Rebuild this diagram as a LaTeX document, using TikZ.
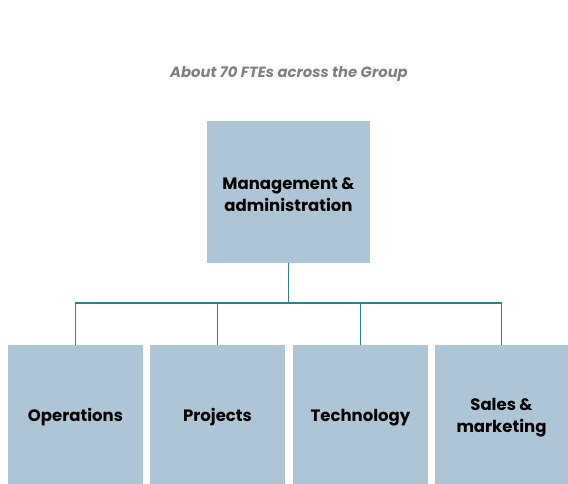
\documentclass[tikz,border=0pt]{standalone}
\usepackage{fontspec}
\setmainfont{Poppins}
\definecolor{boxblue}{HTML}{ADC5D4}
\definecolor{teal}{HTML}{2F8088}
\definecolor{capgray}{HTML}{7F7F7F}

\begin{document}
\begin{tikzpicture}[x=1pt,y=-1pt,
  unit/.style={fill=boxblue, inner sep=0pt, minimum width=135pt, minimum height=139pt},
  unittext/.style={align=center, inner sep=0pt, yshift=-3pt, font=\bfseries\fontsize{16.5}{22}\selectfont},
  link/.style={teal, line width=1.4pt}]
  \useasboundingbox (0,0) rectangle (568,484);
  %caption
  \node[capgray, font=\bfseries\itshape\fontsize{14.8}{16}\selectfont] (cap) at (289,74) {About 70 FTEs across the Group};
  %top box
  \node[unit, minimum width=163pt, minimum height=142pt, label={[unittext]center:Management \&\\administration}] (mgmt) at (288.5,192) {};
  %bottom row
  \node[unit, label={[unittext]center:Operations}] (ops) at (75.5,414.5) {};
  \node[unit, label={[unittext]center:Projects}] (proj) at (217.5,414.5) {};
  \node[unit, label={[unittext]center:Technology}] (tech) at (360.5,414.5) {};
  \node[unit, minimum width=133pt, label={[unittext]center:Sales \&\\marketing}] (sales) at (501.5,414.5) {};
  %lines
  \coordinate (bar) at (288.5,303);
  \draw[link] (mgmt.south) -- (bar);
  \draw[link] (bar) -| (ops.north);
  \draw[link] (bar) -| (proj.north);
  \draw[link] (bar) -| (tech.north);
  \draw[link] (bar) -| (sales.north);
\end{tikzpicture}
\end{document}
